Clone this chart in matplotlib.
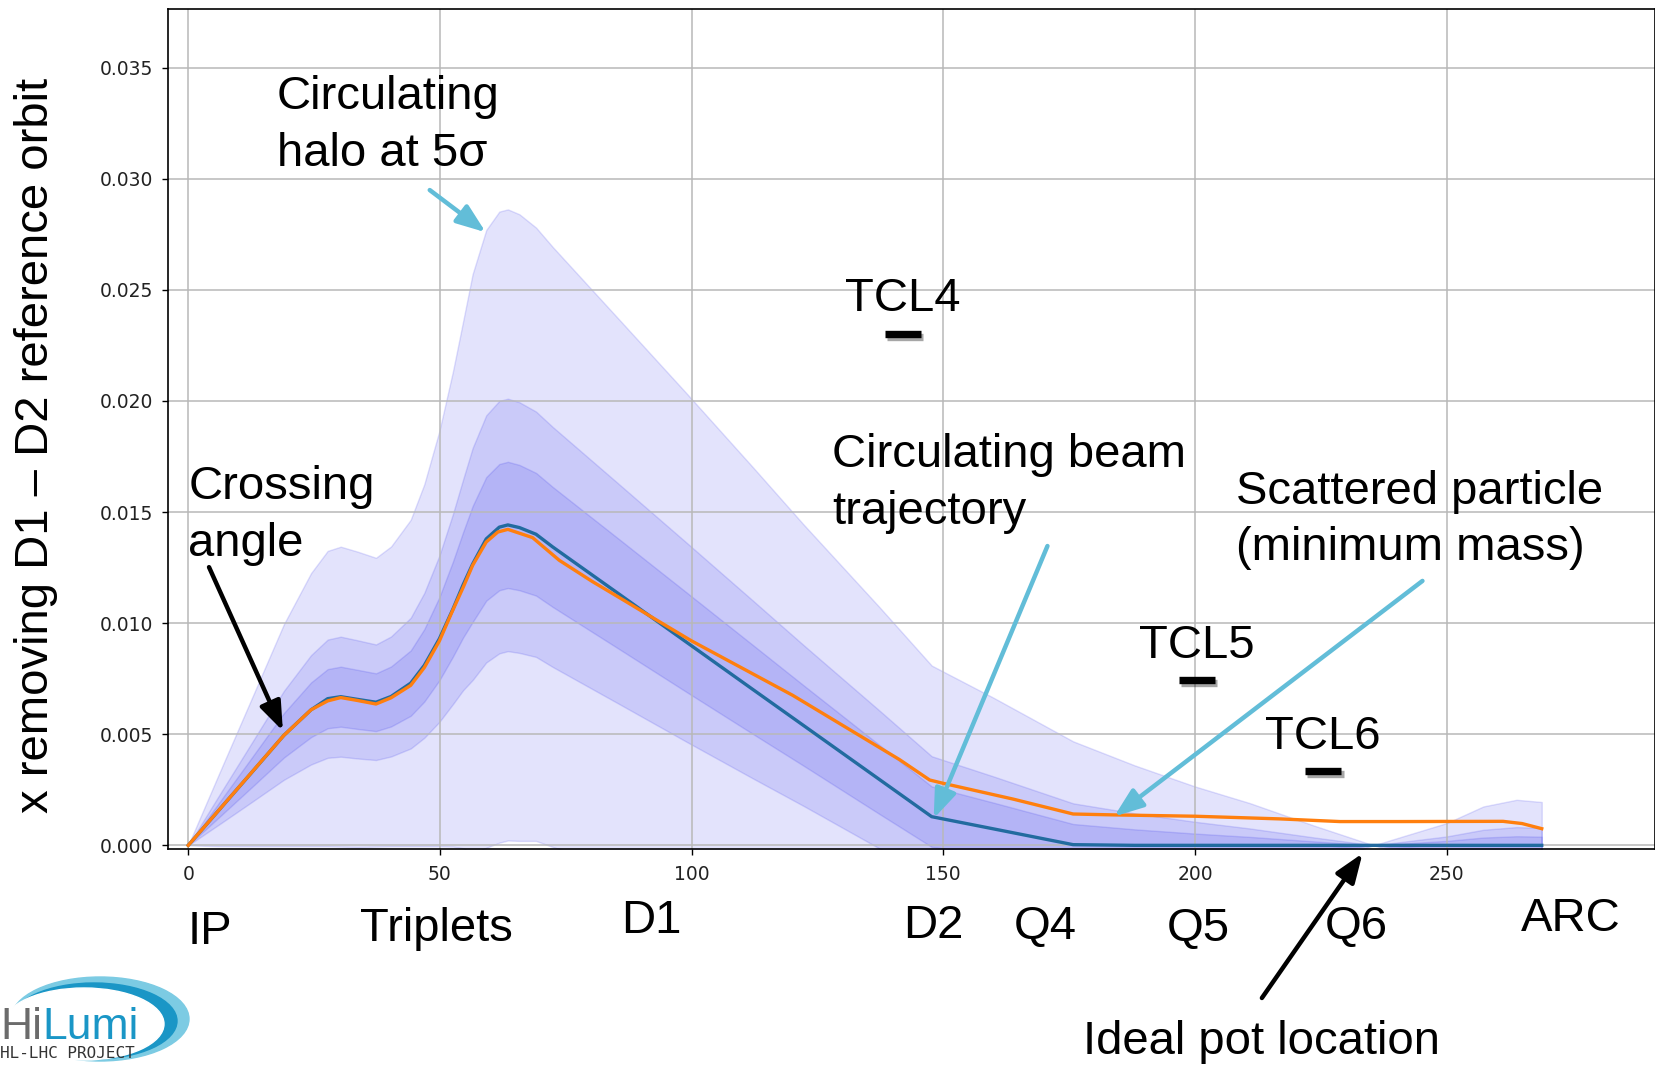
import numpy as np
import matplotlib.pyplot as plt
import matplotlib.patheffects as pe
import matplotlib.transforms as mtransforms
from matplotlib.patches import Ellipse

# circulating beam: position along the line (m), orbit x and 1-sigma size
s_pos = [0, 6, 12.5, 19, 24.4, 27.7, 30.3, 33.6, 37.3, 40.3,
         44.2, 46.9, 49.9, 52.6, 54.6, 56.5, 59.2, 61.8, 63.5, 65.8,
         69.1, 72.4, 85.7, 99, 112.2, 122.2, 137.4, 147.7, 160, 175.8,
         188, 200, 210.9, 223.5, 235.5, 242, 250, 257.3, 263.9, 268.9]
x_beam = [0, 0.00156, 0.00325, 0.00495, 0.0061, 0.0066, 0.00669, 0.00657, 0.00644, 0.0067,
          0.0073, 0.0081, 0.0093, 0.01064, 0.01172, 0.01266, 0.01379, 0.01432, 0.01442, 0.0143,
          0.0140, 0.01343, 0.01129, 0.00914, 0.00701, 0.0054, 0.00295, 0.00129, 0.00074, 0.00003,
          0, 0, 0, 0, 0, 0, 0, 0, 0, 0]
sig_beam = [0, 0.00032, 0.00066, 0.001, 0.00123, 0.00133, 0.00135, 0.00133, 0.0013, 0.00135,
            0.00147, 0.00163, 0.00187, 0.00214, 0.00237, 0.00261, 0.00278, 0.00284, 0.00284, 0.00282,
            0.00276, 0.0027, 0.00247, 0.00224, 0.002, 0.00181, 0.00155, 0.00136, 0.00118, 0.00093,
            0.00072, 0.00053, 0.00038, 0.00018, 0, 0.00009, 0.0002, 0.00035, 0.00041, 0.00039]
n_sigma = [5, 2, 1]

# scattered particle (minimum mass)
s_scat = [0, 19, 24.4, 27.7, 30.3, 33.6, 37.3, 40.3, 44.2, 46.9,
          49.9, 52.2, 54.6, 56.5, 59.2, 61.5, 63.5, 68.4, 73.7, 80.3,
          86.9, 92.9, 100, 120.1, 141.3, 147.3, 150, 163.9, 175.8, 183.8,
          200, 216.9, 228.8, 240.7, 261.2, 265, 268.9]
x_scat = [0, 0.00495, 0.0061, 0.0065, 0.00665, 0.00652, 0.00636, 0.00664, 0.0072, 0.0080,
          0.0092, 0.0104, 0.0116, 0.0126, 0.01365, 0.0141, 0.01422, 0.01385, 0.01283, 0.01187,
          0.01098, 0.01016, 0.0092, 0.00675, 0.00386, 0.00294, 0.00279, 0.00208, 0.00141, 0.00137,
          0.00131, 0.00119, 0.00107, 0.00107, 0.00108, 0.00098, 0.00075]

# collimators
tcl_names = ['TCL4', 'TCL5', 'TCL6']
tcl_s = [142.0, 200.35, 225.5]
tcl_x = [0.02302, 0.00743, 0.00334]

# machine elements along the line
elements = ['IP', 'Triplets', 'D1', 'D2', 'Q4', 'Q5', 'Q6', 'ARC']
element_s = [4.35, 49.35, 91.95, 148.0, 170.3, 200.75, 232.0, 274.7]

s = np.array(s_pos)
xc = np.array(x_beam)
sg = np.array(sig_beam)

big = dict(family=['Liberation Sans', 'DejaVu Sans'], fontsize=34)
cyan = '#62bdd8'

fig = plt.figure(figsize=(16.56, 10.65), dpi=100)
ax = fig.add_axes([0.1016, 0.2025, 0.8978, 0.7895])

for k in n_sigma:
    ax.fill_between(s, xc - k * sg, xc + k * sg, facecolor=(0.05, 0.05, 0.9, 0.115),
                    edgecolor=(0.05, 0.05, 0.9, 0.13), linewidth=1.0)

ax.plot(s, xc, color='#226b9f', lw=2.4, zorder=3)
ax.plot(s_scat, x_scat, color='#ff7f0e', lw=2.4, zorder=4)

ax.set_xlim(-3.97, 291.4)
ax.set_ylim(-0.00018, 0.03766)
ax.set_xticks([0, 50, 100, 150, 200, 250])
ax.set_yticks(np.arange(0, 0.0351, 0.005))
ax.yaxis.set_major_formatter(plt.FormatStrFormatter('%.3f'))
ax.grid(True, color='#b8b8b8', lw=1.1)
ax.tick_params(labelsize=13.5, length=4.5, width=1, pad=6.5, labelcolor='#222222')
for sp in ax.spines.values():
    sp.set_linewidth(1.2)

ax.set_ylabel('x removing D1 \u2013 D2 reference orbit', **big)
ax.yaxis.set_label_coords(-0.0742, 0.48)

# collimator jaws
for name, cs, cx in zip(tcl_names, tcl_s, tcl_x):
    ax.plot([cs - 3.6, cs + 3.6], [cx, cx], color='black', lw=5.3, solid_capstyle='butt',
            zorder=5, path_effects=[pe.SimpleLineShadow(offset=(1.5, -2), alpha=0.35), pe.Normal()])
    ax.text(cs, cx + 0.00155, name, ha='center', va='center', **big)

# annotations
ls = 1.37
ax.text(17.6, 0.0324, 'Circulating\nhalo at 5\u03c3', ha='left', va='center', linespacing=ls, **big)
ax.text(0.0, 0.01484, 'Crossing\nangle', ha='left', va='center', linespacing=ls, **big)
ax.text(127.9, 0.01629, 'Circulating beam\ntrajectory', ha='left', va='center', linespacing=ls, **big)
ax.text(208.1, 0.01465, 'Scattered particle\n(minimum mass)', ha='left', va='center',
        linespacing=ls, **big)

arrows = [
    ((47.98, 0.02949), (59.1, 0.02759), cyan),
    ((4.13, 0.01252), (18.8, 0.00515), 'black'),
    ((170.7, 0.01347), (148.1, 0.00121), cyan),
    ((245.2, 0.0119), (183.96, 0.0013), cyan),
    ((213.3, -0.00687), (233.3, -0.00036), 'black'),
]
for start, end, col in arrows:
    ax.annotate('', xy=end, xytext=start, annotation_clip=False, zorder=6,
                arrowprops=dict(arrowstyle='-|>,head_length=0.8,head_width=0.3', color=col,
                                lw=3.2, mutation_scale=22, shrinkA=0, shrinkB=0))

# element labels below the axis
trans = mtransforms.blended_transform_factory(ax.transData, ax.transAxes)
element_y = [-0.0978, -0.0953, -0.0852, -0.0915, -0.0928, -0.0953, -0.0928, -0.0827]
for name, es, ey in zip(elements, element_s, element_y):
    ax.text(es, ey, name, transform=trans, ha='center', va='center', clip_on=False, **big)
ax.text(213.3, -0.2295, 'Ideal pot location', transform=trans, ha='center', va='center',
        clip_on=False, **big)

# HiLumi logo
W, H = 1656.0, 1065.0
fig.add_artist(Ellipse((100 / W, 1 - 1019 / H), 178 / W, 84 / H, color='#7ccbe3', zorder=0))
fig.add_artist(Ellipse((94 / W, 1 - 1021 / H), 166 / W, 76 / H, color='#1a96c6', zorder=0))
fig.add_artist(Ellipse((84 / W, 1 - 1024 / H), 160 / W, 72 / H, color='white', zorder=0))
fig.text(0 / W, 1 - 1039 / H, 'Hi', color='#6b6b6b', fontsize=32,
         family=['Liberation Sans', 'DejaVu Sans'], ha='left', va='baseline')
fig.text(42 / W, 1 - 1039 / H, 'Lumi', color='#1a96c6', fontsize=32,
         family=['Liberation Sans', 'DejaVu Sans'], ha='left', va='baseline')
fig.text(0 / W, 1 - 1054 / H, 'HL-LHC PROJECT', color='#333333', fontsize=11.5,
         family='DejaVu Sans Mono', ha='left', va='center')

fig.savefig('out.png', dpi=100)
